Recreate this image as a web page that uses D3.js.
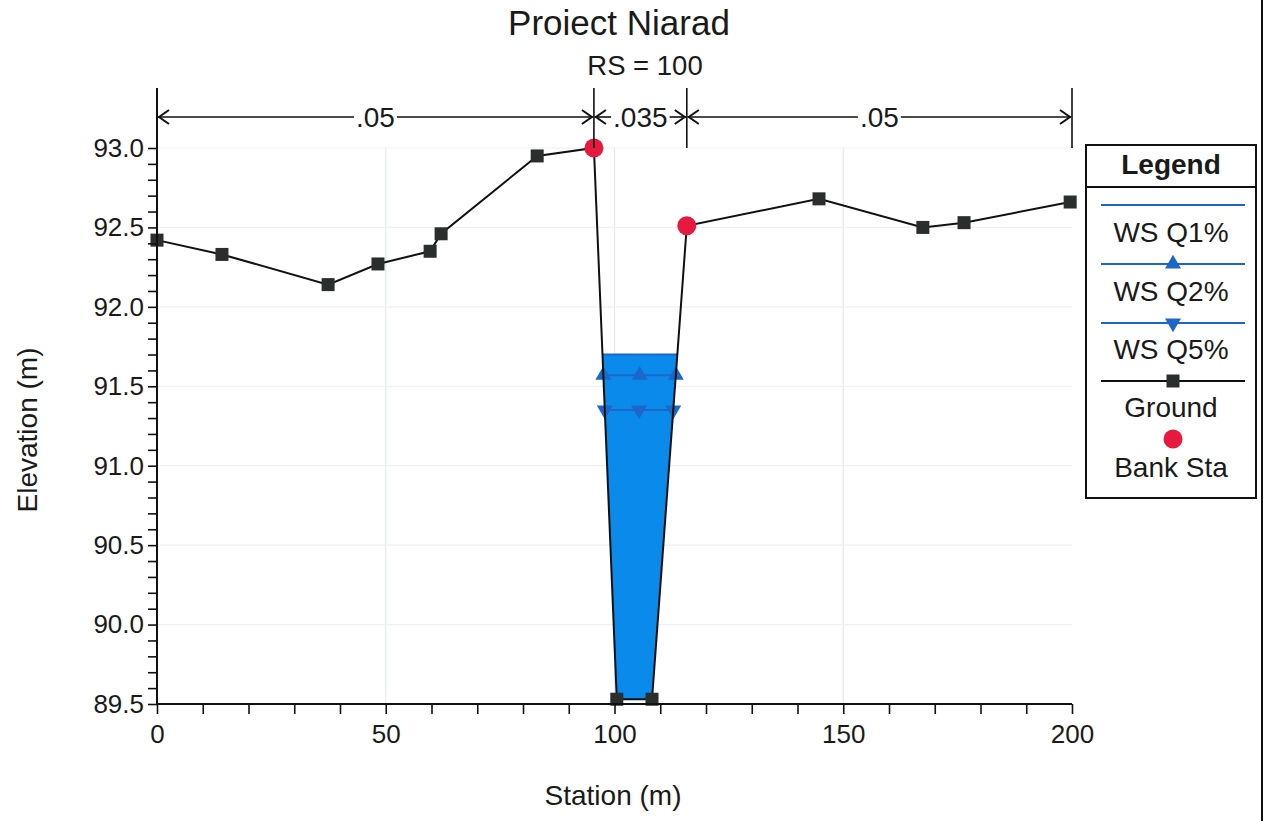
<!DOCTYPE html>
<html><head><meta charset="utf-8">
<script src="https://cdn.jsdelivr.net/npm/d3@7"></script>
<style>body{margin:0;background:#fff}svg{display:block}text{font-family:"Liberation Sans",Arial,sans-serif;fill:#1a1a1a}</style>
</head><body><svg id="c" width="1272" height="821"></svg>
<script>
// Data
const groundStation = [0, 14.2, 37.4, 48.3, 59.7, 62.1, 83.1, 95.5, 100.5, 108.2, 115.8, 144.7, 167.4, 176.4, 199.6];
const groundElev    = [92.42, 92.33, 92.14, 92.27, 92.35, 92.46, 92.95, 93.0, 89.53, 89.53, 92.51, 92.68, 92.50, 92.53, 92.66];
const bankStation = [95.5, 115.8];
const bankElev = [93.0, 92.51];
const wsNames = ["WS Q1%", "WS Q2%", "WS Q5%"];
const wsElev = [91.70, 91.57, 91.35];
const wsMarker = ["none", "up", "down"];
const nBreaks = [0, 95.5, 115.8, 200];
const nValues = [".05", ".035", ".05"];
const xTicks = [0, 50, 100, 150, 200];
const yTicks = [89.5, 90.0, 90.5, 91.0, 91.5, 92.0, 92.5, 93.0];

const svg = d3.select("#c");
const x = d3.scaleLinear().domain([0, 200]).range([157, 1072]);
const y = d3.scaleLinear().domain([89.5, 93.0]).range([704, 148]);
const ground = groundStation.map((s, i) => [s, groundElev[i]]);

const blueLine = "#1d67c8", fill = "#0a8aeb", dark = "#2a2f2e", red = "#e8193f";
const FS = 28;

// gridlines
const g = svg.append("g");
g.selectAll(".gx").data([50, 100, 150]).join("line")
  .attr("x1", d => x(d)).attr("x2", d => x(d)).attr("y1", y(93.0)).attr("y2", y(89.5))
  .attr("stroke", "#e6e8ec").attr("stroke-width", 1.2);
g.selectAll(".gy").data(yTicks.slice(1)).join("line")
  .attr("x1", x(0)).attr("x2", x(200)).attr("y1", d => y(d)).attr("y2", d => y(d))
  .attr("stroke", "#eef0f2").attr("stroke-width", 1.2);

// water level intersections with ground in the channel
function crossings(level) {
  const pts = [];
  for (let i = 0; i < ground.length - 1; i++) {
    const [s0, e0] = ground[i], [s1, e1] = ground[i + 1];
    if (s0 < 90 || s1 > 120) continue;
    if ((e0 - level) * (e1 - level) < 0) {
      const t = (level - e0) / (e1 - e0);
      pts.push(s0 + t * (s1 - s0));
    }
  }
  return pts;
}
// water fill under highest WS
const topLevel = d3.max(wsElev);
const cr = crossings(topLevel);
const poly = [[cr[0], topLevel]];
ground.forEach(p => { if (p[0] > cr[0] && p[0] < cr[1]) poly.push(p); });
poly.push([cr[1], topLevel]);
svg.append("path").attr("d", d3.line().x(d => x(d[0])).y(d => y(d[1])).curve(d3.curveLinear)(poly) + "Z")
  .attr("fill", fill);

// WS lines
const tri = d3.symbol().type(d3.symbolTriangle).size(110);
wsElev.forEach((lev, i) => {
  const c = crossings(lev);
  svg.append("line").attr("x1", x(c[0])).attr("x2", x(c[1])).attr("y1", y(lev)).attr("y2", y(lev))
    .attr("stroke", blueLine).attr("stroke-width", 2);
  if (wsMarker[i] !== "none") {
    const mid = (c[0] + c[1]) / 2;
    [c[0], mid, c[1]].forEach(s => {
      svg.append("path").attr("d", tri())
        .attr("transform", `translate(${x(s)},${y(lev)}) rotate(${wsMarker[i] === "down" ? 180 : 0})`)
        .attr("fill", blueLine);
    });
  }
});

// ground line
svg.append("path").datum(ground)
  .attr("d", d3.line().x(d => x(d[0])).y(d => y(d[1])))
  .attr("fill", "none").attr("stroke", "#111").attr("stroke-width", 2);
svg.selectAll(".gm").data(ground.filter(p => !bankStation.includes(p[0]))).join("rect")
  .attr("x", d => x(d[0]) - 6.5).attr("y", d => y(d[1]) - 6.5).attr("width", 13).attr("height", 13)
  .attr("fill", dark);
svg.selectAll(".bk").data(bankStation).join("circle")
  .attr("cx", d => x(d)).attr("cy", (d, i) => y(bankElev[i])).attr("r", 9.5).attr("fill", red);

// axes
const xAxis = d3.axisBottom(x).tickValues(d3.range(0, 201, 10)).tickSize(10)
  .tickFormat(d => xTicks.includes(d) ? d : "");
const ax = svg.append("g").attr("transform", `translate(0,${y(89.5)})`).call(xAxis);
ax.select(".domain").attr("stroke", "#111").attr("stroke-width", 2).attr("d", `M${x(0)},0H${x(200)}`);
ax.selectAll(".tick line").attr("stroke", "#111").attr("stroke-width", 1.6);
ax.selectAll(".tick text").attr("font-size", 26).attr("y", 14).attr("dy", "0.95em").attr("fill", "#1a1a1a")
  .style("font-family", "'Liberation Sans',Arial,sans-serif");

const yMinor = d3.range(0, 36).map(i => +(89.5 + i * 0.1).toFixed(1));
const yAxis = d3.axisLeft(y).tickValues(yMinor).tickSize(9)
  .tickFormat(d => yTicks.some(t => Math.abs(t - d) < 1e-6) ? d.toFixed(1) : "");
const ay = svg.append("g").attr("transform", `translate(${x(0)},0)`).call(yAxis);
ay.select(".domain").attr("stroke", "#111").attr("stroke-width", 2).attr("d", `M0,88V${y(89.5)}`);
ay.selectAll(".tick line").attr("stroke", "#111").attr("stroke-width", 1.6);
ay.selectAll(".tick text").attr("font-size", 26).attr("x", -13).attr("fill", "#1a1a1a")
  .style("font-family", "'Liberation Sans',Arial,sans-serif");

// Manning's n bars
const nY = 117;
nBreaks.forEach(b => {
  svg.append("line").attr("x1", x(b)).attr("x2", x(b)).attr("y1", 88).attr("y2", y(93.0))
    .attr("stroke", "#111").attr("stroke-width", 1.6);
});
nValues.forEach((v, i) => {
  const a = x(nBreaks[i]), b = x(nBreaks[i + 1]), m = (a + b) / 2;
  const t = svg.append("text").attr("x", m).attr("y", nY + 10).attr("text-anchor", "middle")
    .attr("font-size", FS).text(v);
  const w = t.node().getComputedTextLength() / 2 + 2;
  svg.append("line").attr("x1", a + 1).attr("x2", m - w).attr("y1", nY).attr("y2", nY).attr("stroke", "#111").attr("stroke-width", 1.6);
  svg.append("line").attr("x1", m + w).attr("x2", b - 1).attr("y1", nY).attr("y2", nY).attr("stroke", "#111").attr("stroke-width", 1.6);
  svg.append("path").attr("d", `M${a + 12},${nY - 7}L${a + 2},${nY}L${a + 12},${nY + 7}`)
    .attr("fill", "none").attr("stroke", "#111").attr("stroke-width", 2);
  svg.append("path").attr("d", `M${b - 12},${nY - 7}L${b - 2},${nY}L${b - 12},${nY + 7}`)
    .attr("fill", "none").attr("stroke", "#111").attr("stroke-width", 2);
});

// titles
svg.append("text").attr("x", 619).attr("y", 35).attr("text-anchor", "middle").attr("font-size", 35).text("Proiect Niarad");
svg.append("text").attr("x", 645).attr("y", 75).attr("text-anchor", "middle").attr("font-size", 27.5).text("RS = 100");
svg.append("text").attr("x", 613).attr("y", 805).attr("text-anchor", "middle").attr("font-size", FS).text("Station (m)");
svg.append("text").attr("transform", "translate(37,430) rotate(-90)").attr("text-anchor", "middle").attr("font-size", FS).text("Elevation (m)");

// legend
const L = svg.append("g");
L.append("rect").attr("x", 1086).attr("y", 145).attr("width", 170).attr("height", 353).attr("fill", "#fff").attr("stroke", "#111").attr("stroke-width", 2);
L.append("line").attr("x1", 1086).attr("x2", 1256).attr("y1", 187).attr("y2", 187).attr("stroke", "#111").attr("stroke-width", 2);
L.append("text").attr("x", 1171).attr("y", 174).attr("text-anchor", "middle").attr("font-size", 28).attr("font-weight", "bold").text("Legend");
const lx1 = 1101, lx2 = 1245, lc = 1173;
const legItems = [
  {name: wsNames[0], ly: 205, ty: 242, type: "ws", m: wsMarker[0]},
  {name: wsNames[1], ly: 264, ty: 301, type: "ws", m: wsMarker[1]},
  {name: wsNames[2], ly: 323, ty: 359, type: "ws", m: wsMarker[2]},
  {name: "Ground", ly: 381, ty: 417, type: "ground"},
  {name: "Bank Sta", ly: 439, ty: 477, type: "bank"}
];
legItems.forEach(it => {
  if (it.type === "ws") {
    L.append("line").attr("x1", lx1).attr("x2", lx2).attr("y1", it.ly).attr("y2", it.ly).attr("stroke", blueLine).attr("stroke-width", 2);
    if (it.m !== "none") L.append("path").attr("d", tri())
      .attr("transform", `translate(${lc},${it.ly}) rotate(${it.m === "down" ? 180 : 0})`).attr("fill", blueLine);
  } else if (it.type === "ground") {
    L.append("line").attr("x1", lx1).attr("x2", lx2).attr("y1", it.ly).attr("y2", it.ly).attr("stroke", "#111").attr("stroke-width", 2);
    L.append("rect").attr("x", lc - 6.5).attr("y", it.ly - 6.5).attr("width", 13).attr("height", 13).attr("fill", dark);
  } else {
    L.append("circle").attr("cx", lc).attr("cy", it.ly).attr("r", 9.5).attr("fill", red);
  }
  L.append("text").attr("x", 1171).attr("y", it.ty).attr("text-anchor", "middle").attr("font-size", 28).text(it.name);
});

// scan border at right
svg.append("line").attr("x1", 1262).attr("x2", 1262).attr("y1", 0).attr("y2", 821).attr("stroke", "#111").attr("stroke-width", 2);
</script></body></html>
